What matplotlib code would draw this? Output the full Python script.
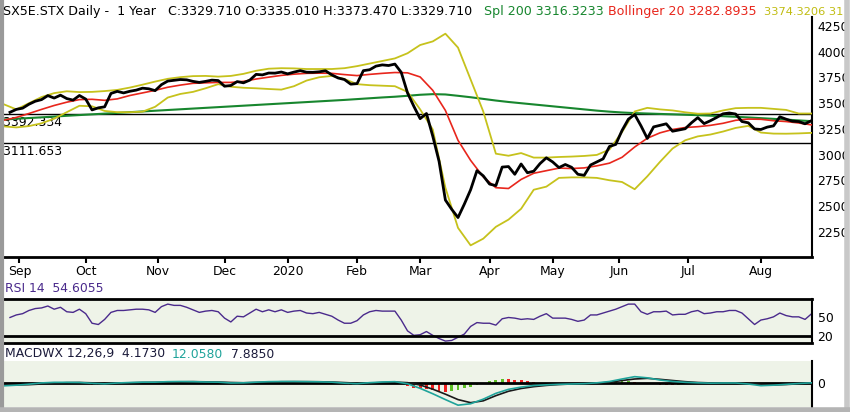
import matplotlib
matplotlib.use("Agg")
import matplotlib.pyplot as plt
import matplotlib.transforms as mtransforms
import numpy as np

W, H = 850, 412

# closing prices, every 2nd trading day (Aug 2019 - Aug 2020)
close = [3412, 3440, 3452, 3490, 3519, 3535, 3574, 3550, 3578, 3545,
         3530, 3575, 3540, 3435, 3455, 3465, 3595, 3615, 3600, 3616,
         3627, 3646, 3640, 3622, 3680, 3715, 3722, 3730, 3727, 3712,
         3702, 3712, 3724, 3720, 3665, 3672, 3710, 3698, 3724, 3780,
         3775, 3793, 3792, 3803, 3785, 3802, 3816, 3801, 3800, 3805,
         3815, 3775, 3745, 3730, 3685, 3690, 3816, 3825, 3860, 3872,
         3866, 3880, 3800, 3600, 3470, 3350, 3400, 3180, 2935, 2560,
         2470, 2390, 2520, 2660, 2845, 2795, 2715, 2700, 2880, 2885,
         2810, 2910, 2825, 2840, 2914, 2970, 2930, 2875, 2905, 2878,
         2810, 2800, 2900, 2930, 2960, 3080, 3100, 3236, 3345, 3390,
         3280, 3158, 3270, 3285, 3300, 3228, 3240, 3252, 3310, 3360,
         3302, 3330, 3362, 3397, 3405, 3395, 3322, 3310, 3250, 3245,
         3268, 3280, 3368, 3345, 3325, 3322, 3300, 3330]

# indicators read every 4th trading day
bb_mid = [3335, 3362, 3400, 3440, 3478, 3510, 3535, 3538, 3528, 3542,
          3575, 3600, 3625, 3655, 3676, 3693, 3698, 3702, 3702, 3712,
          3735, 3753, 3770, 3782, 3790, 3792, 3790, 3778, 3768, 3780,
          3790, 3798, 3795, 3755, 3625, 3430, 3140, 2945, 2785, 2680,
          2672, 2760, 2820, 2845, 2870, 2866, 2872, 2892, 2918, 2975,
          3075, 3160, 3212, 3245, 3264, 3272, 3285, 3305, 3334, 3346,
          3344, 3330, 3322, 3308, 3290]
bb_up = [3490, 3440, 3500, 3560, 3598, 3616, 3608, 3610, 3618, 3629,
         3652, 3680, 3710, 3737, 3753, 3763, 3765, 3758, 3765, 3785,
         3815, 3835, 3840, 3838, 3832, 3832, 3832, 3840, 3860, 3885,
         3910, 3935, 3985, 4065, 4100, 4175, 4040, 3730, 3420, 3010,
         2990, 3016, 2972, 2972, 2978, 2982, 2988, 2998, 3050, 3220,
         3420, 3455, 3440, 3430, 3412, 3398, 3400, 3430, 3452, 3455,
         3455, 3445, 3435, 3400, 3400]
bb_low = [3275, 3265, 3278, 3305, 3350, 3413, 3475, 3470, 3425, 3413,
          3413, 3418, 3465, 3555, 3590, 3610, 3645, 3685, 3660, 3650,
          3645, 3638, 3632, 3665, 3720, 3752, 3765, 3735, 3685, 3675,
          3670, 3665, 3610, 3440, 3245, 2680, 2290, 2120, 2185, 2300,
          2370, 2475, 2660, 2690, 2775, 2780, 2780, 2775, 2752, 2735,
          2665, 2790, 2930, 3060, 3140, 3178, 3196, 3225, 3260, 3280,
          3215, 3205, 3204, 3207, 3212]
sma200 = [3342, 3349, 3356, 3363, 3370, 3378, 3385, 3392, 3399, 3406,
          3413, 3420, 3427, 3434, 3441, 3448, 3455, 3462, 3469, 3476,
          3483, 3490, 3497, 3504, 3511, 3518, 3525, 3532, 3540, 3548,
          3556, 3563, 3572, 3582, 3588, 3585, 3572, 3558, 3542, 3526,
          3512, 3500, 3488, 3476, 3464, 3452, 3440, 3428, 3418, 3410,
          3404, 3400, 3396, 3392, 3388, 3384, 3379, 3374, 3368, 3362,
          3355, 3348, 3341, 3333, 3326]

rsi = [49, 53, 55, 60, 63, 64, 67, 62, 65, 58,
       57, 62, 55, 40, 38, 46, 57, 60, 60, 61,
       62, 62, 61, 57, 66, 70, 68, 68, 65, 61,
       57, 59, 60, 58, 48, 42, 51, 50, 56, 62,
       58, 61, 58, 61, 57, 59, 60, 56, 55, 57,
       54, 51, 45, 40, 40, 44, 53, 58, 60, 59,
       59, 59, 45, 28, 21, 22, 27, 21, 16, 12,
       13, 18, 23, 35, 41, 40, 40, 37, 47, 49,
       48, 46, 47, 46, 51, 55, 48, 48, 48, 46,
       43, 45, 53, 53, 56, 59, 62, 66, 70, 70,
       58, 54, 58, 58, 59, 53, 54, 54, 58, 60,
       55, 56, 58, 58, 60, 60, 56, 47, 38, 45,
       47, 50, 56, 52, 50, 50, 46, 54.6]

macd = [-30, -22, -10, 5, 12, 12, 10, 0, -6, 4,
        10, 14, 14, 20, 22, 20, 16, 14, 4, 6,
        14, 20, 22, 22, 20, 18, 14, 2, -4, 8,
        16, 20, -5, -60, -125, -195, -262, -245, -190, -120,
        -72, -45, -26, -18, -12, -8, -4, 6, 22, 52,
        80, 66, 40, 22, 12, 6, 2, 4, 4, -8,
        -28, -22, -12, -2, 6]
signal = [-20, -20, -16, -8, 2, 8, 10, 6, 0, 0,
          6, 10, 12, 15, 18, 20, 18, 16, 10, 7,
          10, 15, 19, 20, 20, 19, 16, 9, 2, 3,
          10, 15, 8, -20, -70, -130, -195, -232, -210, -148,
          -95, -62, -40, -25, -14, -8, -2, 2, 12, 34,
          52, 60, 48, 34, 20, 10, 5, 4, 4, 0,
          -14, -20, -14, -6, 0]
hist = [-10, -8, -4, 4, 8, 8, 10, 4, 6, -2,
        -4, 2, -2, -14, -16, -10, 4, 8, 6, 6,
        6, 6, 4, 0, 6, 10, 8, 6, 4, 0,
        -4, -4, -2, -2, -10, -12, -6, -4, 0, 6,
        6, 8, 6, 6, 4, 4, 4, 2, 0, 0,
        -2, -4, -8, -12, -14, -10, -2, 4, 8, 8,
        8, 6, -8, -30, -50, -60, -70, -85, -95, -100,
        -92, -80, -60, -45, -25, -5, 25, 45, 52, 50,
        42, 35, 25, 15, 10, 8, 4, 2, 0, -2,
        -6, -4, 4, 8, 12, 16, 20, 24, 26, 20,
        8, -4, -10, -14, -16, -18, -16, -12, -8, -4,
        -4, 0, 2, 6, 8, 6, 0, -10, -22, -20,
        -14, -10, -4, -2, 2, 4, 6, 8]

month_labels = ['Sep', 'Oct', 'Nov', 'Dec', '2020', 'Feb', 'Mar', 'Apr', 'May', 'Jun', 'Jul', 'Aug']
month_days = [3, 24, 47, 68, 88, 110, 130, 152, 172, 193, 215, 238]
levels = [3392.334, 3111.653]
price_ticks = [2250, 2500, 2750, 3000, 3250, 3500, 3750, 4000, 4250]

x2 = np.arange(len(close)) * 2
x4 = np.arange(len(bb_mid)) * 4 - 2
XLIM = (-1.9, 254.2)

C_YEL = '#c6c21c'
C_RED = '#e8261c'
C_GRN = '#17862e'
C_PUR = '#4a2a8c'
C_TEAL = '#1fa39a'
PANEL = '#eef3e8'
FS = 8.9
FT = 9.1

plt.rcParams['font.family'] = ['DejaVu Sans']

fig = plt.figure(figsize=(W / 100, H / 100), dpi=100)


def box(l, t, r, b):
    return [l / W, 1 - b / H, (r - l) / W, (b - t) / H]


def ftext(x, y, s, size=FS, **kw):
    fig.text(x / W, 1 - y / H, s, va='center', ha='left', fontsize=size, **kw)


# ---- price panel
ax = fig.add_axes(box(4, 17, 812, 257))
ax.plot(x4, sma200, color=C_GRN, lw=1.5, zorder=3)
ax.plot(x4, bb_up, color=C_YEL, lw=1.3, zorder=3)
ax.plot(x4, bb_low, color=C_YEL, lw=1.3, zorder=3)
ax.plot(x4, bb_mid, color=C_RED, lw=1.2, zorder=3)
ax.plot(x2, close, color='black', lw=2, zorder=4)
blend = mtransforms.blended_transform_factory(ax.transAxes, ax.transData)
for lv in levels:
    ax.axhline(lv, color='black', lw=1, zorder=2)
    ax.annotate('%.3f' % lv, xy=(0, lv), xycoords=blend, xytext=(-0.5, -1.5),
                textcoords='offset points', va='top', ha='left', fontsize=FS, zorder=1)
ax.set_xlim(*XLIM)
ax.set_ylim(2007, 4337)
ax.yaxis.tick_right()
ax.set_yticks(price_ticks)
ax.tick_params(axis='y', length=0, pad=4, labelsize=FS)
ax.set_xticks(month_days)
ax.set_xticklabels(month_labels)
ax.tick_params(axis='x', direction='out', length=4, width=1.5, pad=2, labelsize=FS)
for s in ['top', 'left']:
    ax.spines[s].set_visible(False)
ax.spines['right'].set_linewidth(1.5)
ax.spines['bottom'].set_linewidth(2)

# ---- RSI panel
ax2 = fig.add_axes(box(4, 299, 812, 343), facecolor=PANEL)
ax2.plot(x2, rsi, color=C_PUR, lw=1)
ax2.axhline(20, color='black', lw=2)
ax2.set_xlim(*XLIM)
ax2.set_ylim(9, 78)
ax2.set_xticks([])
ax2.yaxis.tick_right()
ax2.set_yticks([50, 20])
ax2.tick_params(axis='y', length=0, pad=4, labelsize=FS)
ax2.spines['left'].set_visible(False)
ax2.spines['top'].set_linewidth(2)
ax2.spines['bottom'].set_linewidth(2)
ax2.spines['right'].set_linewidth(1.5)

# ---- MACD panel
ax3 = fig.add_axes(box(4, 361, 812, 407), facecolor=PANEL)
h = np.array(hist, dtype=float)
rising = np.diff(h, prepend=h[0]) >= 0
ax3.bar(x2, h, width=0.9, color=np.where(rising, '#5cbf24', '#f01e1e'), zorder=2)
ax3.axhline(0, color='black', lw=2, zorder=3)
ax3.plot(x4, signal, color='#1a1a1a', lw=1.2, zorder=4)
ax3.plot(x4, macd, color=C_TEAL, lw=1.2, zorder=4)
ax3.set_xlim(*XLIM)
ax3.set_ylim(-284, 268)
ax3.set_xticks([])
ax3.yaxis.tick_right()
ax3.set_yticks([0])
ax3.tick_params(axis='y', length=0, pad=4, labelsize=FS)
for s in ['left', 'top', 'bottom']:
    ax3.spines[s].set_visible(False)
ax3.spines['right'].set_linewidth(1.5)

# ---- header texts
ftext(3, 12, 'SX5E.STX Daily -  1 Year   C:3329.710 O:3335.010 H:3373.470 L:3329.710', size=FT, color='black')
ftext(484, 12, 'Spl 200 3316.3233', size=FT, color=C_GRN)
ftext(608, 12, 'Bollinger 20 3282.8935', size=FT, color=C_RED)
ftext(764, 12, '3374.3206 31', size=8.2, color='#c0bc10')
ftext(5, 289, 'RSI 14  54.6055', color=C_PUR)
ftext(5, 354, 'MACDWX 12,26,9  4.1730', color='#1a1a3a')
ftext(172, 354, '12.0580', color=C_TEAL)
ftext(231, 354, '7.8850', color='#1a1a3a')

# window frame
fig.add_artist(plt.Line2D([2 / W, 2 / W], [0, 1], color='#9a9a9a', lw=3))
fig.add_artist(plt.Line2D([847 / W, 847 / W], [0, 1], color='#c8c8c8', lw=4))
fig.add_artist(plt.Line2D([0, 1], [2.5 / H, 2.5 / H], color='#b4b4b4', lw=4))

fig.savefig('out.png', dpi=100)
